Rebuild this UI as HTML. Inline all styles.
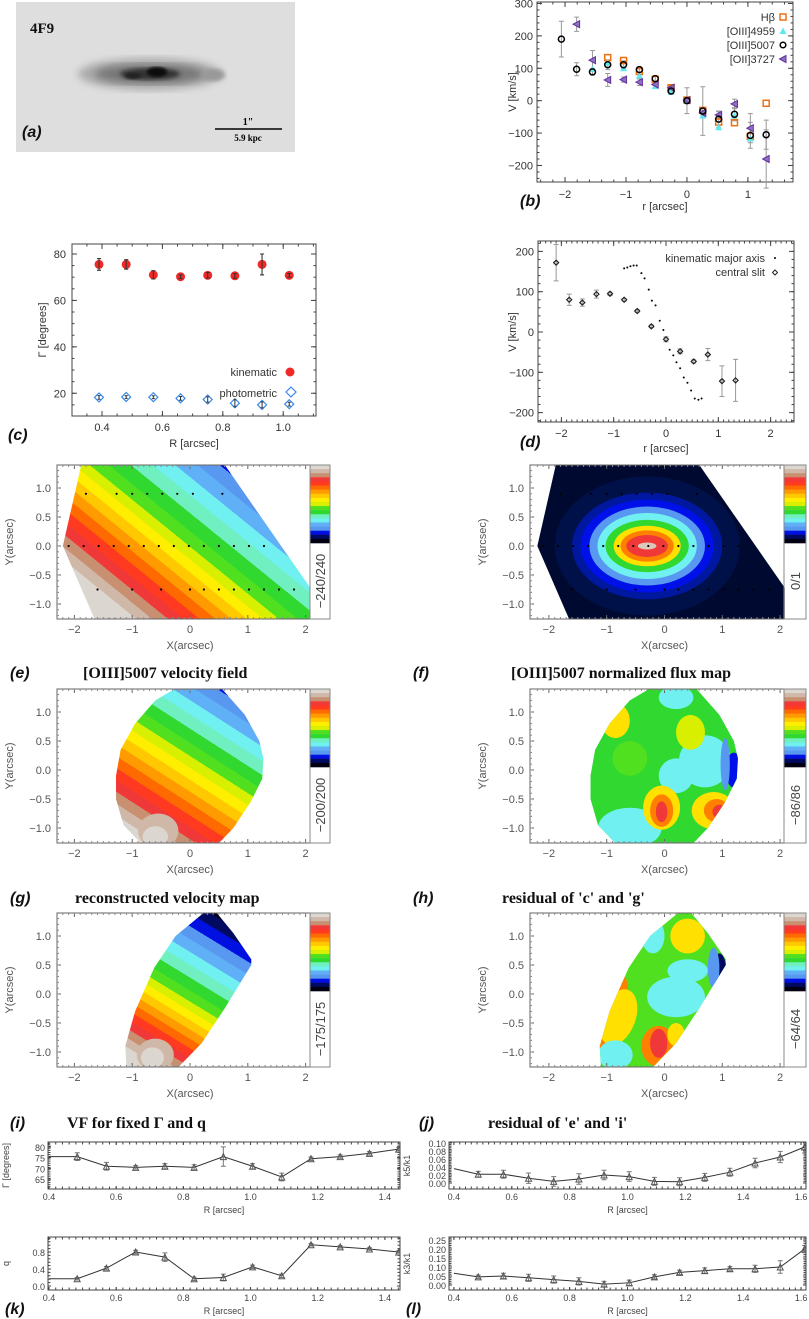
<!DOCTYPE html>
<html><head><meta charset="utf-8"><style>
html,body{margin:0;padding:0;background:#fff;}
svg{display:block;}
text{font-family:"Liberation Sans",sans-serif;}
.tk{font-size:11px;fill:#333;}
.sm{font-size:9px;fill:#444;}
.ttl{font-family:"Liberation Serif",serif;font-weight:bold;font-size:16px;fill:#111;}
.pl{font-family:"Liberation Sans",sans-serif;font-style:italic;font-weight:bold;font-size:16px;fill:#111;}
</style></head><body>
<svg id="fig" xmlns="http://www.w3.org/2000/svg" width="809" height="1319" viewBox="0 0 809 1319">
<defs>
<filter id="blur3"><feGaussianBlur stdDeviation="4"/></filter>
<filter id="blur2"><feGaussianBlur stdDeviation="2"/></filter>
<filter id="blur1"><feGaussianBlur stdDeviation="1.2"/></filter>
</defs>
<g>
<rect x="16" y="2" width="279" height="150" fill="#dedede"/>
<ellipse cx="150" cy="74" rx="72" ry="16" fill="#aaa" filter="url(#blur3)"/>
<ellipse cx="150" cy="74" rx="55" ry="10" fill="#777" filter="url(#blur3)"/>
<ellipse cx="150" cy="74" rx="30" ry="6" fill="#333" filter="url(#blur2)"/>
<ellipse cx="157" cy="72" rx="10" ry="5" fill="#111" filter="url(#blur1)"/>
<ellipse cx="133" cy="76" rx="8" ry="3" fill="#222" filter="url(#blur1)"/>
<ellipse cx="213" cy="75" rx="12" ry="6" fill="#999" filter="url(#blur2)"/>
<text x="30" y="33" style="font-family:'Liberation Serif',serif;font-weight:bold;font-size:15px;fill:#111">4F9</text>
<text x="22" y="137" class="pl">(a)</text>
<line x1="215" y1="129" x2="282" y2="129" stroke="#000" stroke-width="1.5"/>
<text x="248" y="125" text-anchor="middle" style="font-family:'Liberation Serif',serif;font-size:10px;font-weight:bold">1"</text>
<text x="248" y="141" text-anchor="middle" style="font-family:'Liberation Serif',serif;font-size:9px;font-weight:bold">5.9 kpc</text>
</g>
</svg>
<script>
// ---------- panel b data ----------
const bR = [-2.06,-1.81,-1.55,-1.30,-1.04,-0.78,-0.52,-0.26,0,0.26,0.52,0.78,1.04,1.30];
const bOIII5007 = [190,97,89,111,111,96,68,30,0,-32,-57,-42,-107,-105];
const bOIII5007Err = [55,20,10,15,12,8,8,10,40,75,25,20,40,45];
const bHb = [null,null,null,133,124,90,66,40,2,-30,-66,-68,-110,-8];
const bOIII4959 = [null,null,98,117,100,77,45,27,0,-46,-82,-46,-117,null];
const bOII = [null,236,125,64,65,57,50,40,2,-38,-44,-10,-85,-180];
const bOIIErr = [null,22,30,20,8,10,8,6,6,8,10,15,45,90];
// ---------- panel c data ----------
const cR = [0.39,0.48,0.57,0.66,0.75,0.84,0.93,1.02];
const cKin = [75.5,75.5,71,70.2,70.8,70.6,75.5,70.8];
const cKinErr = [2.5,2,1.8,0.8,1.2,1,4.5,0.8];
const cPhot = [18.2,18.4,18.3,17.8,17.3,15.7,15,15.3];
const cPhotErr = [0.8,0.6,0.6,0.8,1.2,1.5,1.3,0.8];
// ---------- panel d data ----------
const dSlitR = [-2.1,-1.85,-1.6,-1.33,-1.07,-0.8,-0.55,-0.28,0,0.27,0.53,0.8,1.07,1.33];
const dSlitV = [172,80,73,94,95,80,52,14,-18,-48,-73,-56,-122,-120];
const dSlitErr = [45,14,9,10,4,3,3,3,6,6,4,15,38,52];
const dKinR = [-0.8,-0.74,-0.68,-0.62,-0.56,-0.47,-0.41,-0.33,-0.27,-0.2,-0.12,-0.05,0.07,0.14,0.2,0.27,0.34,0.41,0.48,0.55,0.62,0.68];
const dKinV = [158,160,163,165,165,146,133,105,78,66,28,5,-44,-58,-75,-90,-113,-126,-145,-165,-168,-165];
// ---------- bottom panels data ----------
const iR = [0.4,0.484,0.571,0.658,0.745,0.832,0.919,1.006,1.093,1.18,1.267,1.354,1.441];
const iGamma = [75.5,75.5,71,70.5,71,70.5,75.5,71,66,74.5,75.5,77,79];
const iGammaErr = [0,1.8,1.8,0.8,1.2,1.2,4.5,1.2,1.8,0.8,0.8,0.8,0.8];
const kQ = [0.17,0.17,0.42,0.8,0.68,0.17,0.2,0.45,0.24,0.97,0.92,0.87,0.8];
const kQErr = [0,0.03,0.04,0.04,0.1,0.04,0.08,0.04,0.04,0.03,0.03,0.03,0.03];
const jR = [0.4,0.484,0.571,0.658,0.745,0.832,0.919,1.006,1.093,1.18,1.267,1.354,1.441,1.528,1.612];
const jK5 = [0.036,0.022,0.022,0.012,0.004,0.01,0.02,0.016,0.004,0.003,0.014,0.027,0.05,0.065,0.09];
const jK5Err = [0,0.007,0.01,0.013,0.012,0.013,0.012,0.012,0.01,0.01,0.01,0.01,0.012,0.014,0.015];
const lK3 = [0.065,0.045,0.05,0.04,0.03,0.02,0.005,0.012,0.045,0.07,0.08,0.09,0.09,0.1,0.2];
const lK3Err = [0,0.01,0.015,0.02,0.02,0.02,0.015,0.015,0.012,0.012,0.015,0.012,0.02,0.035,0.02];
// ---------- map palette / labels ----------
const palette = ['#dcd6d0','#d0b8a8','#c89070','#f03838','#ff3a20','#ff6a00','#ff9a00','#ffc800','#ffee00','#d8f000','#50e020','#30d830','#70f0c0','#70f0f0','#60b0f8','#5898f0','#0010e0','#000a60','#000010'];
const cbLabels = ['\u2212240/240','0/1','\u2212200/200','\u221286/86','\u2212175/175','\u221264/64'];

const NS='http://www.w3.org/2000/svg';
const svg=document.getElementById('fig');
function mk(p,tag,a){const e=document.createElementNS(NS,tag);for(const k in a)e.setAttribute(k,a[k]);p.appendChild(e);return e;}
function txt(p,x,y,s,cls,anchor,extra){const t=mk(p,'text',Object.assign({x:x,y:y,class:cls||'tk','text-anchor':anchor||'middle'},extra||{}));t.textContent=s;return t;}

function axes(g,fx0,fx1,fy0,fy1,xd,yd,xt,yt,opt){
  const sx=v=>fx0+(v-xd[0])/(xd[1]-xd[0])*(fx1-fx0);
  const sy=v=>fy1-(v-yd[0])/(yd[1]-yd[0])*(fy1-fy0);
  const fr=mk(g,'rect',{x:fx0,y:fy0,width:fx1-fx0,height:fy1-fy0,fill:'none',stroke:'#444','stroke-width':1});
  
  
  const cls=opt.cls||'tk', tl=opt.tl||5;
  xt.forEach(v=>{const x=sx(v);mk(g,'line',{x1:x,y1:fy1,x2:x,y2:fy1-tl,stroke:'#444'});mk(g,'line',{x1:x,y1:fy0,x2:x,y2:fy0+tl,stroke:'#444'});
    const t=txt(g,x,fy1+opt.xlo,opt.xf(v),cls,'middle');});
  yt.forEach(v=>{const y=sy(v);mk(g,'line',{x1:fx0,y1:y,x2:fx0+tl,y2:y,stroke:'#444'});mk(g,'line',{x1:fx1,y1:y,x2:fx1-tl,y2:y,stroke:'#444'});
    const t=txt(g,fx0-opt.ylo,y+4,opt.yf(v),cls,'end');});
  if(opt.minx){for(let v=opt.minx[0];v<=xd[1];v+=opt.minx[1]){const x=sx(v);if(x<fx0||x>fx1)continue;mk(g,'line',{x1:x,y1:fy1,x2:x,y2:fy1-2.5,stroke:'#444'});mk(g,'line',{x1:x,y1:fy0,x2:x,y2:fy0+2.5,stroke:'#444'});}}
  if(opt.miny){for(let v=opt.miny[0];v<=yd[1];v+=opt.miny[1]){const y=sy(v);if(y<fy0||y>fy1)continue;mk(g,'line',{x1:fx0,y1:y,x2:fx0+2.5,y2:y,stroke:'#444'});mk(g,'line',{x1:fx1,y1:y,x2:fx1-2.5,y2:y,stroke:'#444'});}}
  return {sx,sy};
}
function errbar(g,x,y1,y2,col,cap){const e=mk(g,'path',{d:`M${x},${y1}V${y2}M${x-cap},${y1}h${2*cap}M${x-cap},${y2}h${2*cap}`,stroke:col,'stroke-width':1,fill:'none'});}
const f0=v=>String(v).replace('-','\u2212');

// ================= Panel b =================
{
const g=mk(svg,'g',{});


const A=axes(g,537,793,2,182,[-2.46,1.74],[-251,304.6],[-2,-1,0,1],[-200,-100,0,100,200,300],{xlo:16,ylo:4,xf:f0,yf:f0,minx:[-2.4,0.2],miny:[-240,20]});
const {sx,sy}=A;
bR.forEach((r,i)=>{
  const x=sx(r);
  if(bOII[i]!==null){errbar(g,x,sy(bOII[i]-bOIIErr[i]),sy(bOII[i]+bOIIErr[i]),'#999',2.5);}
  errbar(g,x,sy(bOIII5007[i]-bOIII5007Err[i]),sy(bOIII5007[i]+bOIII5007Err[i]),'#999',2.5);
});
bR.forEach((r,i)=>{const x=sx(r);
  if(bHb[i]!==null){const m=mk(g,'rect',{x:x-3,y:sy(bHb[i])-3,width:6,height:6,fill:'none',stroke:'#f07010','stroke-width':1.5});}
  if(bOIII4959[i]!==null){const y=sy(bOIII4959[i]);const m=mk(g,'path',{d:`M${x-3.5},${y+3}L${x+3.5},${y+3}L${x},${y-3.5}Z`,fill:'#60e8f0'});}
  if(bOII[i]!==null){const y=sy(bOII[i]);const m=mk(g,'path',{d:`M${x-3.5},${y}L${x+3},${y-3.5}L${x+3},${y+3.5}Z`,fill:'#9070c0',stroke:'#6030a0','stroke-width':1});}
  const m=mk(g,'circle',{cx:x,cy:sy(bOIII5007[i]),r:3,fill:'none',stroke:'#000','stroke-width':1.5});
});
const L=[['H\u03b2',17],['[OIII]4959',31],['[OIII]5007',45],['[OII]3727',59]];
L.forEach((l,i)=>{const t=txt(g,775,l[1]+4,l[0],'tk','end');});
mk(g,'rect',{x:780,y:14,width:6,height:6,fill:'none',stroke:'#f07010','stroke-width':1.5});
mk(g,'path',{d:'M779.5,34L786.5,34L783,27.5Z',fill:'#60e8f0'});
mk(g,'circle',{cx:783,cy:45,r:2.8,fill:'none',stroke:'#000','stroke-width':1.5});
mk(g,'path',{d:'M779.5,59L786,55.5L786,62.5Z',fill:'#9070c0',stroke:'#6030a0'});
const yl=txt(g,0,0,'V [km/s]','tk','middle',{transform:'translate(516,92) rotate(-90)'});
const xl=txt(g,665,210,'r [arcsec]','tk','middle');
const pl=txt(g,520,206,'(b)','pl','start');
}
// ================= Panel c =================
{
const g=mk(svg,'g',{});


const {sx,sy}=axes(g,72,316,244,416,[0.3006,1.1086],[10.2,84.3],[0.4,0.6,0.8,1.0],[20,40,60,80],{xlo:15,ylo:6,xf:v=>v.toFixed(1),yf:v=>String(v),minx:[0.3,0.05],miny:[15,5]});
cR.forEach((r,i)=>{const x=sx(r);
  errbar(g,x,sy(cKin[i]-cKinErr[i]),sy(cKin[i]+cKinErr[i]),'#666',2);
  const m=mk(g,'circle',{cx:x,cy:sy(cKin[i]),r:4.5,fill:'#f02828'});
  errbar(g,x,sy(cKin[i]-cKinErr[i]),sy(cKin[i]+cKinErr[i]),'#333',2);
  const y=sy(cPhot[i]);const d=mk(g,'path',{d:`M${x},${y-4.5}L${x+4.5},${y}L${x},${y+4.5}L${x-4.5},${y}Z`,fill:'none',stroke:'#3a8ae8','stroke-width':1.2});
  errbar(g,x,sy(cPhot[i]-cPhotErr[i]),sy(cPhot[i]+cPhotErr[i]),'#333',1.5);
});
const t1=txt(g,277,376,'kinematic','tk','end');
mk(g,'circle',{cx:290,cy:372,r:4.5,fill:'#f02828'});
const t2=txt(g,277,397,'photometric','tk','end');
mk(g,'path',{d:'M291,387L296,392L291,397L286,392Z',fill:'none',stroke:'#3a8ae8','stroke-width':1.2});
const yl=txt(g,0,0,'\u0393 [degrees]','tk','middle',{transform:'translate(46,330) rotate(-90)'});
const xl=txt(g,194,447,'R [arcsec]','tk','middle');
const pl=txt(g,8,440,'(c)','pl','start');
}
// ================= Panel d =================
{
const g=mk(svg,'g',{});


const {sx,sy}=axes(g,538,794,241,422,[-2.447,2.447],[-223.3,225.8],[-2,-1,0,1,2],[-200,-100,0,100,200],{xlo:15,ylo:4,xf:f0,yf:f0,minx:[-2.4,0.1],miny:[-220,20]});
dSlitR.forEach((r,i)=>{const x=sx(r);errbar(g,x,sy(dSlitV[i]-dSlitErr[i]),sy(dSlitV[i]+dSlitErr[i]),'#999',2.5);
  const y=sy(dSlitV[i]);const m=mk(g,'path',{d:`M${x},${y-2.5}L${x+2.5},${y}L${x},${y+2.5}L${x-2.5},${y}Z`,fill:'none',stroke:'#222','stroke-width':1.2});});
dKinR.forEach((r,i)=>{const m=mk(g,'circle',{cx:sx(r),cy:sy(dKinV[i]),r:1,fill:'#000'});});
const t1=txt(g,765,262,'kinematic major axis','tk','end');
mk(g,'circle',{cx:775,cy:258,r:1,fill:'#000'});
const t2=txt(g,765,276,'central slit','tk','end');
mk(g,'path',{d:'M775,270L777.5,272.5L775,275L772.5,272.5Z',fill:'none',stroke:'#222'});
const yl=txt(g,0,0,'V [km/s]','tk','middle',{transform:'translate(516,332) rotate(-90)'});
const xl=txt(g,666,452,'r [arcsec]','tk','middle');
const pl=txt(g,520,447,'(d)','pl','start');
}
// ================= Maps =================
const rowTop=[465,689,913];
const colX=[{f0:57,f1:310,zero:190},{f0:530,f1:784,zero:664.5}];
const S=57.8;
const outline1=[[-2.2,0],[-1.88,1.4],[0.6,1.4],[2.08,-0.72],[2.08,-1.26],[-1.65,-1.26]];
const outline2=[[-0.26,1.4],[0.55,1.4],[0.95,0.95],[1.2,0.5],[1.27,0.2],[1.25,-0.15],[1.05,-0.55],[0.75,-1.0],[0.5,-1.26],[-0.85,-1.26],[-1.15,-0.95],[-1.28,-0.5],[-1.28,-0.1],[-1.2,0.35],[-0.95,0.8],[-0.6,1.2]];
const outline3=[[0.24,1.4],[0.46,1.4],[0.75,1.05],[1.06,0.6],[1.06,0.5],[0.6,-0.25],[0.2,-0.85],[-0.2,-1.26],[-1.1,-1.26],[-1.12,-0.9],[-0.95,-0.3],[-0.62,0.45],[-0.25,1.0]];
const dotsY=[0.9,0,-0.75];
const dotsX=[[-1.8,-1.27,-1.0,-0.74,-0.48,-0.22,0.05,0.56],[-2.1,-1.84,-1.58,-1.32,-1.06,-0.8,-0.54,-0.28,-0.02,0.24,0.5,0.76,1.02,1.28],[-1.6,-1.0,-0.5,0.0,0.24,0.5,0.76,1.02,1.28,1.54,1.8]];
const defs=svg.querySelector('defs');
let gid=0;
function mapFrame(col,row,name){
  const c=colX[col], top=rowTop[row], bot=top+154;
  const g=mk(svg,'g',{});
  
  
  const sx=v=>c.zero+S*v, sy=v=>top+81-58*v;
  return {g,sx,sy,c,top,bot};
}
function clipPoly(M,pts){
  const id='cp'+(gid++);const cp=mk(defs,'clipPath',{id:id});
  mk(cp,'polygon',{points:pts.map(p=>M.sx(p[0])+','+M.sy(p[1])).join(' ')});
  const inner=mk(M.g,'g',{'clip-path':`url(#${id})`});
  return inner;
}
function bandGrad(cx,cy,ux,uy,gi,sn,sp){
  const id='lg'+(gid++);
  const n=palette.length;
  const d=b=>(b-gi)*(b<gi?sn:sp);
  const d0=d(0),d1=d(n);
  const lg=mk(defs,'linearGradient',{id:id,gradientUnits:'userSpaceOnUse',x1:cx+d0*ux,y1:cy+d0*uy,x2:cx+d1*ux,y2:cy+d1*uy});
  for(let i=0;i<n;i++){const a=(d(i)-d0)/(d1-d0),b=(d(i+1)-d0)/(d1-d0);
    mk(lg,'stop',{offset:a,'stop-color':palette[i]});mk(lg,'stop',{offset:b,'stop-color':palette[i]});}
  return `url(#${id})`;
}
function blob(p,M,x,y,rx,ry,col,rot){const e=mk(p,'ellipse',{cx:M.sx(x),cy:M.sy(y),rx:rx*S,ry:ry*58,fill:col,transform:`rotate(${rot||0} ${M.sx(x)} ${M.sy(y)})`});return e;}
function mapAxes(M,idx){
  const {g,sx,sy,c,top,bot}=M;
  const fr=mk(g,'rect',{x:c.f0,y:top,width:c.f1-c.f0,height:154,fill:'none',stroke:'#666','stroke-width':1});
  
  
  [-2,-1,0,1,2].forEach(v=>{const x=sx(v);mk(g,'line',{x1:x,y1:bot,x2:x,y2:bot-4,stroke:'#666'});mk(g,'line',{x1:x,y1:top,x2:x,y2:top+4,stroke:'#666'});
    const t=txt(g,x,bot+14,f0(v),'tk','middle',{style:'fill:#555'});});
  for(let v=-2.2;v<=2.05;v+=0.1){const x=sx(v);mk(g,'line',{x1:x,y1:bot,x2:x,y2:bot-2,stroke:'#888'});mk(g,'line',{x1:x,y1:top,x2:x,y2:top+2,stroke:'#888'});}
  [1,0.5,0,-0.5,-1].forEach(v=>{const y=sy(v);mk(g,'line',{x1:c.f0,y1:y,x2:c.f0+4,y2:y,stroke:'#666'});
    const t=txt(g,c.f0-6,y+4,f0(v.toFixed(1)),'tk','end',{style:'fill:#555'});});
  for(let v=-1.2;v<=1.35;v+=0.1){const y=sy(v);mk(g,'line',{x1:c.f0,y1:y,x2:c.f0+2,y2:y,stroke:'#888'});}
  const xl=txt(g,sx(0),bot+30,'X(arcsec)','tk','middle',{style:'fill:#555'});
  const yl=txt(g,0,0,'Y(arcsec)','tk','middle',{transform:`translate(${c.f0-44},${top+77}) rotate(-90)`,style:'fill:#555'});
  const cb=mk(g,'g',{});
  
  
  const w=(M.c.f0===57?20:22), h=78/palette.length;
  palette.forEach((p,i)=>{mk(cb,'rect',{x:c.f1,y:top+i*h,width:w,height:h+0.3,fill:p});});
  mk(cb,'rect',{x:c.f1,y:top,width:w,height:154,fill:'none',stroke:'#888'});
  const lab=txt(cb,0,0,cbLabels[idx],'tk','middle',{transform:`translate(${c.f1+w/2+5},${top+116}) rotate(-90)`,style:'font-size:13px;fill:#444'});
  
  
}
function dots(p,M){dotsY.forEach((y,k)=>dotsX[k].forEach(x=>{const d=mk(p,'circle',{cx:M.sx(x),cy:M.sy(y),r:1.1,fill:'#000'});}));}

{const M=mapFrame(0,0,'map-velocity-field-slits');const p=clipPoly(M,outline1);
 mk(p,'rect',{x:M.c.f0,y:M.top,width:260,height:154,fill:bandGrad(M.sx(0),M.sy(0.1),0.631,-0.776,10.5,10,14)});
 dots(M.g,M);mapAxes(M,0);}
{const M=mapFrame(1,0,'map-normalized-flux');const p=clipPoly(M,outline1);
 mk(p,'rect',{x:M.c.f0,y:M.top,width:260,height:154,fill:'#000a30'});
 blob(p,M,-0.3,0,1.6,1.2,'#001048');
 blob(p,M,-0.3,0,1.3,0.92,'#0018a0');
 const lv=[[1.15,0.8,'#0010e8'],[1.0,0.68,'#5898f0'],[0.86,0.57,'#70f0f0'],[0.72,0.45,'#30d830'],[0.58,0.35,'#ffe000'],[0.46,0.27,'#ff8000'],[0.36,0.19,'#f03838'],[0.16,0.06,'#dcc8b8']];
 lv.forEach(l=>blob(p,M,-0.3,0,l[0],l[1],l[2]));
 dots(M.g,M);mapAxes(M,1);}
{const M=mapFrame(0,1,'map-oiii5007-velocity');const p=clipPoly(M,outline2);
 mk(p,'rect',{x:M.c.f0,y:M.top,width:260,height:154,fill:bandGrad(M.sx(0.1),M.sy(0.28),0.541,-0.841,10.5,10,12)});
 blob(p,M,-0.55,-1.05,0.35,0.3,'#d0b8a8');blob(p,M,-0.6,-1.15,0.22,0.18,'#dcd6d0');
 mapAxes(M,2);}
{const M=mapFrame(1,1,'map-normalized-residual-flux');const p=clipPoly(M,outline2);
 mk(p,'rect',{x:M.c.f0,y:M.top,width:260,height:154,fill:'#30d830'});
 blob(p,M,-0.6,-1.0,0.55,0.35,'#70f0f0');blob(p,M,0.7,0.15,0.45,0.45,'#70f0f0');blob(p,M,0.2,-0.1,0.3,0.3,'#70f0f0');blob(p,M,0.2,1.25,0.3,0.2,'#70f0f0');
 blob(p,M,1.2,0.0,0.15,0.3,'#0010e8');blob(p,M,1.05,0.1,0.08,0.45,'#5898f0');
 blob(p,M,-0.85,0.85,0.25,0.3,'#ffe000');blob(p,M,0.45,0.65,0.25,0.3,'#d8f000');blob(p,M,-0.6,0.2,0.3,0.3,'#50e020');
 blob(p,M,-0.05,-0.65,0.32,0.38,'#ffe000');blob(p,M,-0.05,-0.7,0.2,0.28,'#ff8000');blob(p,M,-0.05,-0.72,0.1,0.18,'#f03838');
 blob(p,M,0.85,-0.7,0.38,0.32,'#ffe000');blob(p,M,0.9,-0.7,0.22,0.2,'#ff8000');blob(p,M,0.95,-0.72,0.12,0.12,'#f03838');
 mapAxes(M,3);}
{const M=mapFrame(0,2,'map-reconstructed-velocity');const p=clipPoly(M,outline3);
 mk(p,'rect',{x:M.c.f0,y:M.top,width:260,height:154,fill:bandGrad(M.sx(0),M.sy(-0.05),0.52,-0.85,10.5,8,11)});
 blob(p,M,-0.6,-1.05,0.32,0.28,'#d0b8a8');blob(p,M,-0.65,-1.1,0.2,0.18,'#dcd6d0');
 mapAxes(M,4);}
{const M=mapFrame(1,2,'map-residual-velocity');const p=clipPoly(M,outline3);
 mk(p,'rect',{x:M.c.f0,y:M.top,width:260,height:154,fill:'#50e020'});
 blob(p,M,-1.0,-0.3,0.3,0.7,'#ff8000',20);blob(p,M,-0.8,-0.4,0.3,0.5,'#ffe000',20);
 blob(p,M,-0.85,-1.05,0.3,0.25,'#70f0f0');blob(p,M,0.2,-0.05,0.5,0.35,'#70f0f0');blob(p,M,0.4,0.4,0.35,0.2,'#70f0f0');blob(p,M,-0.2,1.0,0.2,0.3,'#70f0f0');
 blob(p,M,0.4,1.0,0.3,0.3,'#ffe000');blob(p,M,0.95,0.4,0.12,0.3,'#000a60');blob(p,M,0.85,0.45,0.1,0.35,'#5898f0');
 blob(p,M,-0.1,-0.9,0.3,0.35,'#ff8000');blob(p,M,-0.1,-0.85,0.15,0.25,'#f03838');blob(p,M,0.2,-0.7,0.15,0.2,'#ffe000');
 mapAxes(M,5);}

const titles=[[10,673,'(e)',83,'[OIII]5007 velocity field'],[413,673,'(f)',511,'[OIII]5007 normalized flux map'],
 [10,898,'(g)',75,'reconstructed velocity map'],[413,898,'(h)',502,"residual of 'c' and 'g'"],
 [10,1123,'(i)',67,'VF for fixed \u0393 and q'],[419,1123,'(j)',488,"residual of 'e' and 'i'"]];
titles.forEach(t=>{
  const a=txt(svg,t[0],t[1]+5,t[2],'pl','start');
  const b=txt(svg,t[3],t[1]+5,t[4],'ttl','start');
});

function linePanel(name,fx0,fx1,fy0,fy1,xd,yd,xt,yt,yf,xs,ys,es,ytitle,label){
  const g=mk(svg,'g',{});
  
  
  const {sx,sy}=axes(g,fx0,fx1,fy0,fy1,xd,yd,xt,yt,{cls:'sm',tl:3,xlo:11,ylo:3,xf:v=>v.toFixed(1),yf:yf,minx:[0.4,0.02],miny:[yd[0]<0?0:yd[0],(yt[1]-yt[0])/5]});
  const cp='cl'+(gid++);const c=mk(defs,'clipPath',{id:cp});mk(c,'rect',{x:fx0,y:fy0,width:fx1-fx0,height:fy1-fy0});
  const inner=mk(g,'g',{'clip-path':`url(#${cp})`});
  const ln=mk(inner,'polyline',{points:xs.map((x,i)=>sx(x)+','+sy(ys[i])).join(' '),fill:'none',stroke:'#333','stroke-width':1});
  
  xs.forEach((x,i)=>{if(es[i]>0)errbar(inner,sx(x),sy(ys[i]-es[i]),sy(ys[i]+es[i]),'#777',2.5);
    if(i>0){const X=sx(x),Y=sy(ys[i]);const m=mk(inner,'path',{d:`M${X-3},${Y+3}L${X+3},${Y+3}L${X},${Y-3}Z`,fill:'none',stroke:'#555'});}});
  const xl=txt(g,(fx0+fx1)/2,fy1+24,'R [arcsec]','sm','middle');
  const yl=txt(g,0,0,ytitle,'sm','middle',{transform:`translate(${fx0-39},${(fy0+fy1)/2}) rotate(-90)`});
  if(label){const pl=txt(g,fx0-43,fy1+24,label,'pl','start');}
}
linePanel('panel-i-gamma',48,400,1142,1189,[0.397,1.445],[60.4,82.3],[0.4,0.6,0.8,1.0,1.2,1.4],[65,70,75,80],v=>String(v),iR,iGamma,iGammaErr,'\u0393 [degrees]',null);
linePanel('panel-k-q',48,400,1237,1290,[0.397,1.445],[-0.094,1.153],[0.4,0.6,0.8,1.0,1.2,1.4],[0,0.4,0.8],v=>v.toFixed(1),iR,kQ,kQErr,'q','(k)');
linePanel('panel-j-k5',449,806,1142,1189,[0.383,1.617],[-0.015,0.1025],[0.4,0.6,0.8,1.0,1.2,1.4,1.6],[0,0.02,0.04,0.06,0.08,0.10],v=>v.toFixed(2),jR,jK5,jK5Err,'k5/k1',null);
linePanel('panel-l-k3',449,806,1237,1290,[0.383,1.617],[-0.028,0.267],[0.4,0.6,0.8,1.0,1.2,1.4,1.6],[0,0.05,0.1,0.15,0.2,0.25],v=>v.toFixed(2),jR,lK3,lK3Err,'k3/k1','(l)');
</script>
</body></html>
